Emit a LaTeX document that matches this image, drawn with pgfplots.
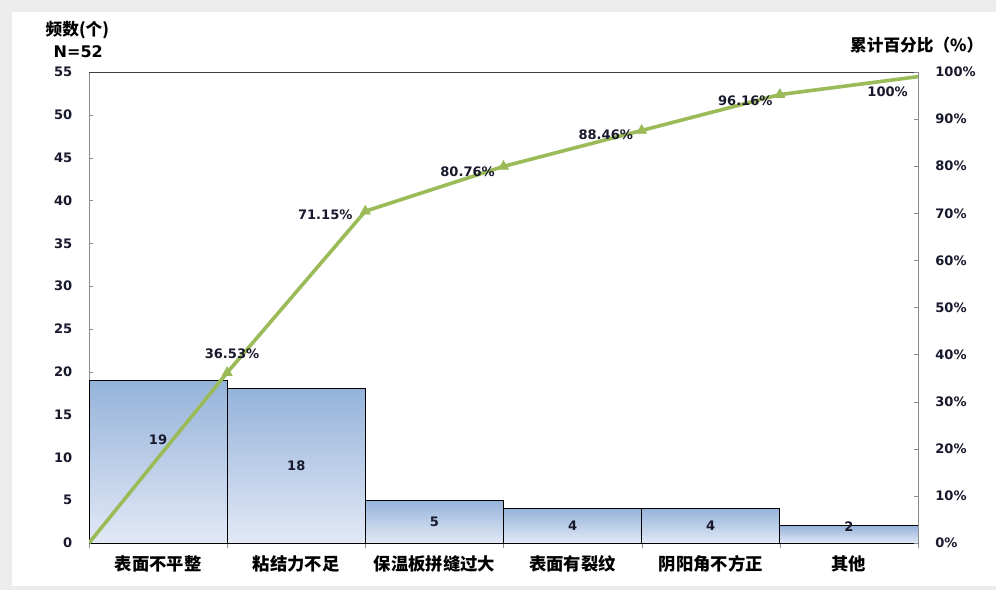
\documentclass[border=0pt]{standalone}
\usepackage{pgfplots}
\pgfplotsset{compat=1.18}
\usepackage{fontspec}
\setmainfont{DejaVu Sans}
\newfontfamily\cjk{Noto Sans CJK SC}

\definecolor{barTop}{RGB}{149,179,218}
\definecolor{barBot}{RGB}{226,233,246}
\definecolor{lineGreen}{RGB}{155,187,89}
\definecolor{numInk}{RGB}{25,25,45}
\definecolor{frameGray}{RGB}{236,236,236}

\begin{document}
\begin{tikzpicture}[x=0.75pt,y=0.75pt]
% page: 996 x 590 px, 1px = 0.75pt, y measured upward
\fill[frameGray] (0,0) rectangle (996,590);
\fill[white] (12,4) rectangle (996,578);
\useasboundingbox (0,0) rectangle (996,590);

\pgfplotsset{
  paretobase/.style={
    scale only axis, width=621.75pt, height=353.25pt,
    at={(66.75pt,35.25pt)}, anchor=south west,
    xmin=0, xmax=6,
    tick align=inside,
    major tick length=3pt,
    axis line style={draw=black!45},
    tick style={draw=black!45},
    /pgf/number format/assume math mode=true,
    ticklabel style={font=\fontsize{9.8}{11}\selectfont\bfseries, text=numInk},
  },
  bar/.style={ybar interval, draw=black, line width=0.75pt, top color=barTop, bottom color=barBot},
}

\begin{axis}[
  paretobase,
  ymin=0, ymax=55,
  ytick={0,5,...,55},
  ytick pos=left,
  yticklabel style={xshift=-9pt},
  xtick={0.5,1.5,...,5.5},
  xticklabels={表面不平整,粘结力不足,保温板拼缝过大,表面有裂纹,阴阳角不方正,其他},
  xticklabel style={font=\cjk\fontsize{13}{15}\selectfont\bfseries, text=black, yshift=-6pt},
  xtick pos=bottom,
  major x tick style={draw=none},
  minor xtick={0,1,...,6},
  minor tick length=4pt,
  minor x tick style={draw=black!45, yshift=-4pt},
]
% one plot per bar so that each bar gets its own gradient
\addplot[bar] coordinates {(0,19) (1,19)};
\addplot[bar] coordinates {(1,18) (2,18)};
\addplot[bar] coordinates {(2,5) (3,5)};
\addplot[bar] coordinates {(3,4) (4,4)};
\addplot[bar] coordinates {(4,4) (5,4)};
\addplot[bar] coordinates {(5,2) (6,2)};
% value labels inside bars
\addplot[draw=none, mark=none, nodes near coords, point meta=explicit symbolic,
  nodes near coords style={anchor=center, font=\fontsize{9.8}{11}\selectfont\bfseries, text=numInk}]
  coordinates {(0.5,12.1)[19] (1.5,9.0)[18] (2.5,2.45)[5] (3.5,2.0)[4] (4.5,2.0)[4] (5.5,1.9)[2]};
\draw[black!75, line width=0.6pt] (rel axis cs:0,1) -- (rel axis cs:1,1);
\end{axis}

\begin{axis}[
  paretobase,
  ymin=0, ymax=101,
  axis x line=none,
  axis y line*=right,
  ytick={0,10.1,20.2,30.3,40.4,50.5,60.6,70.7,80.8,90.9,101},
  yticklabels={0\%,10\%,20\%,30\%,40\%,50\%,60\%,70\%,80\%,90\%,100\%},
  yticklabel style={xshift=9.5pt},
]
\addplot[lineGreen, line width=2.7pt, mark=triangle*, mark size=4.3pt,
  mark indices={2,3,4,5,6}, mark options={fill=lineGreen, draw=lineGreen, line width=0.5pt}]
  coordinates {(0,0) (1,36.53) (2,71.15) (3,80.76) (4,88.46) (5,96.16) (6,100)};
% cumulative percentage labels
\addplot[draw=none, mark=none, nodes near coords, point meta=explicit symbolic,
  nodes near coords style={anchor=center, font=\fontsize{9.8}{11}\selectfont\bfseries, text=numInk}]
  coordinates {(1.035,40.6)[36.53\%] (1.71,70.3)[71.15\%] (2.74,79.6)[80.76\%]
               (3.74,87.5)[88.46\%] (4.75,94.9)[96.16\%] (5.78,96.8)[100\%]};
\end{axis}

% axis titles
\node[font=\cjk\fontsize{12.5}{14}\selectfont\bfseries, anchor=west] at (41,560) {频数(个)};
\node[font=\fontsize{12}{14}\selectfont\bfseries, anchor=west] at (49,538) {N=52};
\node[font=\cjk\fontsize{12.5}{14}\selectfont\bfseries, anchor=east] at (988,545) {累计百分比（\%）};
\end{tikzpicture}
\end{document}
